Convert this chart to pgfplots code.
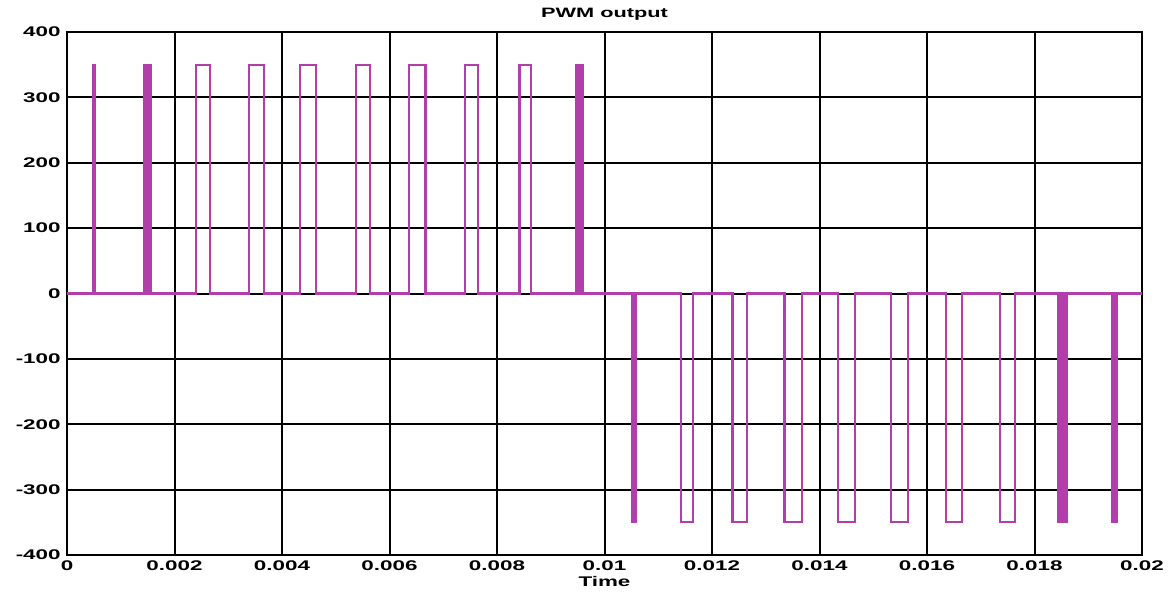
\documentclass[border=0pt]{standalone}
\usepackage{fontspec}
\setmainfont{Liberation Sans}[FakeStretch=1.6]
\usepackage{pgfplots}
\pgfplotsset{compat=1.18}
\definecolor{pwm}{RGB}{178,62,172}
\begin{document}
\begin{tikzpicture}
\begin{axis}[
  at={(0,0)}, anchor=south west,
  scale only axis,
  width=537.5pt, height=261.5pt,
  xmin=0, xmax=0.02, ymin=-400, ymax=400,
  xtick={0,0.002,0.004,0.006,0.008,0.01,0.012,0.014,0.016,0.018,0.02},
  xticklabels={0,0.002,0.004,0.006,0.008,0.01,0.012,0.014,0.016,0.018,0.02},
  ytick={-400,-300,-200,-100,0,100,200,300,400},
  /pgf/number format/assume math mode=true,
  major tick length=0pt,
  grid=major,
  major grid style={black, line width=1pt},
  axis line style={black, line width=1pt},
  ticklabel style={font=\fontsize{7}{8}\selectfont\bfseries},
  xticklabel style={anchor=center, yshift=-5.5pt},
  yticklabel style={anchor=east, inner sep=0pt, xshift=-3pt},
  title={PWM output},
  title style={font=\fontsize{6.8}{7}\selectfont\bfseries, at={(axis description cs:0.5,1)}, anchor=center, yshift=3pt},
  xlabel={Time},
  xlabel style={font=\fontsize{7}{8}\selectfont\bfseries, at={(axis description cs:0.5,0)}, anchor=center, yshift=-13pt},
]
\addplot[pwm, line width=1.1pt, line join=miter] coordinates {
(0,0)
(0.00049,0)(0.00049,350)(0.00051,350)(0.00051,0)
(0.00144,0)(0.00144,350)(0.00147,350)(0.00147,0)
(0.00149,0)(0.00149,350)(0.00152,350)(0.00152,0)
(0.00154,0)(0.00154,350)(0.00157,350)(0.00157,0)
(0.00240,0)(0.00240,350)(0.00266,350)(0.00266,0)
(0.00338,0)(0.00338,350)(0.00366,350)(0.00366,0)
(0.00434,0)(0.00434,350)(0.00463,350)(0.00463,0)
(0.00537,0)(0.00537,350)(0.00563,350)(0.00563,0)
(0.00637,0)(0.00637,350)(0.00667,350)(0.00667,0)
(0.00740,0)(0.00740,350)(0.00765,350)(0.00765,0)
(0.00842,0)(0.00842,350)(0.00863,350)(0.00863,0)
(0.00947,0)(0.00947,350)(0.00950,350)(0.00950,0)
(0.00952,0)(0.00952,350)(0.00955,350)(0.00955,0)
(0.00957,0)(0.00957,350)(0.00959,350)(0.00959,0)
(0.01051,0)(0.01051,-350)(0.01054,-350)(0.01054,0)
(0.01056,0)(0.01056,-350)(0.01059,-350)(0.01059,0)
(0.01142,0)(0.01142,-350)(0.01164,-350)(0.01164,0)
(0.01238,0)(0.01238,-350)(0.01265,-350)(0.01265,0)
(0.01335,0)(0.01335,-350)(0.01367,-350)(0.01367,0)
(0.01435,0)(0.01435,-350)(0.01466,-350)(0.01466,0)
(0.01533,0)(0.01533,-350)(0.01564,-350)(0.01564,0)
(0.01635,0)(0.01635,-350)(0.01665,-350)(0.01665,0)
(0.01736,0)(0.01736,-350)(0.01763,-350)(0.01763,0)
(0.01843,0)(0.01843,-350)(0.01847,-350)(0.01847,0)
(0.01850,0)(0.01850,-350)(0.01854,-350)(0.01854,0)
(0.01857,0)(0.01857,-350)(0.01860,-350)(0.01860,0)
(0.01945,0)(0.01945,-350)(0.01948,-350)(0.01948,0)
(0.01950,0)(0.01950,-350)(0.01953,-350)(0.01953,0)
(0.02,0)
};
\end{axis}
\pgfresetboundingbox
\useasboundingbox (-33.5pt,-18pt) rectangle (551pt,277.5pt);
\end{tikzpicture}
\end{document}
